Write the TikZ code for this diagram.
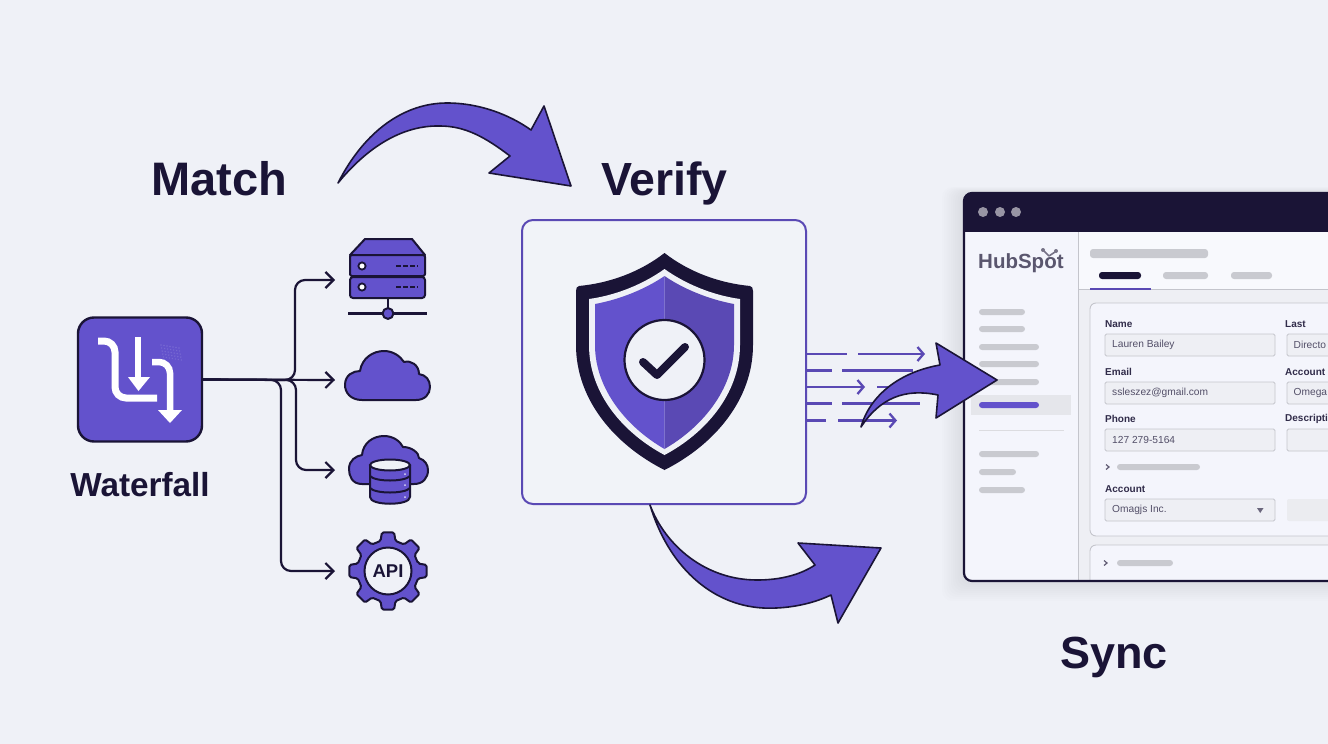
\documentclass[tikz,border=0pt]{standalone}
\usepackage{fontspec}
\setmainfont{Liberation Sans}
\usepackage{xcolor}
\usetikzlibrary{arrows.meta}
\definecolor{pagebg}{HTML}{EFF1F7}
\definecolor{brand}{HTML}{6352CC}
\definecolor{branddk}{HTML}{5A49B4}
\definecolor{ink}{HTML}{1A1436}
\definecolor{barfill}{HTML}{C9CAD0}
\definecolor{fieldbg}{HTML}{EEEFF4}
\definecolor{fieldln}{HTML}{C4C5CC}
\definecolor{panelbg}{HTML}{F4F5FC}
\tikzset{
    heading/.style={font=\bfseries\fontsize{47}{50}\selectfont,text=ink,inner sep=0pt,anchor=base},
    feed/.style={draw=ink,line width=2.2pt,rounded corners=10pt,-{Straight Barb[length=8pt,width=16pt,line width=2.2pt]}},
    icon/.style={fill=brand,draw=ink,line width=2pt,line join=round},
    bigarrow/.style={fill=brand,draw=ink,line width=1.6pt,line join=round},
    dashline/.style={draw=branddk,line width=2.3pt},
    dashtip/.style={dashline,-{Straight Barb[length=6pt,width=14pt]}},
    bar/.style={fill=barfill,rounded corners=3pt},
    flabel/.style={font=\fontsize{10}{12}\selectfont\bfseries,text=ink!90,anchor=west,inner sep=0pt},
    fvalue/.style={font=\fontsize{10.2}{12}\selectfont,text=ink!75,anchor=west,inner sep=0pt},
    fbox/.style={fill=fieldbg,draw=fieldln,line width=.9pt,rounded corners=1.5pt},
    chevron/.style={draw=ink!70,line width=1.2pt},
}
\begin{document}
\begin{tikzpicture}[x=1pt,y=-1pt]
    \useasboundingbox (0,0) rectangle (1328,744);
    \fill[pagebg] (0,0) rectangle (1328,744);

    % headings
    \node[heading] (match) at (219,195) {Match};
    \node[heading,font=\bfseries\fontsize{46.5}{50}\selectfont] (verify) at (664.5,195) {Verify};
    \node[heading,font=\bfseries\fontsize{45}{50}\selectfont] (sync) at (1114,668) {Sync};
    \node[heading,font=\bfseries\fontsize{33.3}{36}\selectfont] (waterfall) at (140,496) {Waterfall};

    % waterfall box
    \node[draw=ink,fill=brand,line width=2.4pt,rounded corners=16pt,minimum size=124pt,inner sep=0pt] (wf) at (140,379.5) {};
    \draw[white,line width=7pt,rounded corners=11pt] (98,341) -- (115,341) -- (115,398) -- (157,398);
    \draw[white,line width=6.5pt] (138,337) -- (138,380);
    \fill[white] (128,377) -- (150,377) -- (138.5,391) -- cycle;
    \draw[white,line width=6.5pt,rounded corners=11pt] (152,362) -- (170,362) -- (170,412);
    \fill[white] (158,410) -- (182,410) -- (170,423) -- cycle;
    \foreach \i in {0,...,6} \foreach \j in {0,...,4}
        \fill[white,opacity=.13] (161+\i*3+\j*.6,345+\j*3+\i*.5) circle (.8pt);

    % feed ends
    \coordinate (serverin) at (335,280);
    \coordinate (cloudin) at (335,380);
    \coordinate (dbin) at (335,470);
    \coordinate (apiin) at (335,571);
    \coordinate (fork) at (295,380);
    \coordinate (forkb) at (296,380);
    \coordinate (forkc) at (281,380);
    \draw[feed] (wf.east) -- (fork) -- (fork|-serverin) -- (serverin);
    \draw[feed,rounded corners=0pt] (wf.east) -- (cloudin);
    \draw[feed] (wf.east) -- (forkb) -- (forkb|-dbin) -- (dbin);
    \draw[feed] (wf.east) -- (forkc) -- (forkc|-apiin) -- (apiin);

    % server
    \draw[icon] (350,255) -- (365,239) -- (412,239) -- (425,255) -- cycle;
    \draw[icon,rounded corners=2pt] (350,255) rectangle (425,276);
    \draw[icon,rounded corners=3pt] (350,277) rectangle (425,298);
    \foreach \y in {266,287}{
        \draw[fill=white,draw=ink,line width=1.8pt] (362,\y) circle (3.6pt);
        \draw[ink,line width=1.3pt,dash pattern=on 5pt off 2pt] (396,\y) -- (418,\y);
    }
    \draw[ink,line width=2pt] (388,298) -- (388,313);
    \draw[ink,line width=2.4pt] (348,313.5) -- (427,313.5);
    \draw[icon] (388,313.5) circle (5.4pt);

    % cloud
    \draw[icon] (362,400) .. controls (350,400) and (345,392) .. (345,385)
        .. controls (345,375) and (353,371) .. (360,371)
        .. controls (362,358) and (373,351) .. (384,351)
        .. controls (393,351) and (400,356) .. (404,362)
        .. controls (411,360) and (419,365) .. (419,374)
        .. controls (426,375) and (430,380) .. (430,387)
        .. controls (430,394) and (425,400) .. (416,400) -- cycle;

    % cloud with store
    \draw[icon] (362,484) .. controls (352,484) and (349,476) .. (349,469)
        .. controls (349,460) and (356,456) .. (362,455)
        .. controls (363,443) and (373,436) .. (384,436)
        .. controls (393,436) and (400,441) .. (403,447)
        .. controls (412,447) and (419,453) .. (419,458)
        .. controls (425,460) and (428,465) .. (428,470)
        .. controls (428,478) and (423,484) .. (414,484) -- cycle;
    \draw[icon] (370,465) -- (370,497) .. controls (370,506) and (410,506) .. (410,497) -- (410,465) -- cycle;
    \draw[fill=pagebg,draw=ink,line width=2pt] (390,465) ellipse (20pt and 5.5pt);
    \foreach \y in {476,488} \draw[ink,line width=2pt] (370,\y) .. controls (375,\y+6) and (405,\y+6) .. (410,\y);
    \foreach \y in {474,485,497} \fill[white!80!brand] (405,\y) circle (1pt);

    % gear
    \begin{scope}[shift={(388,571)}]
        \draw[icon,rounded corners=1.5pt] (-14:31)
            \foreach \a in {0,45,...,315}{ -- (\a-14:31) -- (\a-9:39) -- (\a+9:39) -- (\a+14:31) } -- cycle;
    \end{scope}
    \node[circle,fill=pagebg,draw=ink,line width=2pt,minimum size=47pt,inner sep=0pt,font=\bfseries\fontsize{18.5}{20}\selectfont,text=ink] (api) at (388,571) {API};

    % shield box
    \draw[draw=branddk,line width=2pt,fill=pagebg!85!white,rounded corners=11pt] (522,220) rectangle (806,504);
    \fill[ink] (664.5,253) .. controls (640,272) and (610,283) .. (579,286)
        .. controls (577,286.5) and (576,288) .. (576,291) -- (576,345)
        .. controls (576,400) and (615,445) .. (664.5,470)
        .. controls (714,445) and (753,400) .. (753,345) -- (753,291)
        .. controls (753,288) and (752,286.5) .. (750,286)
        .. controls (719,283) and (689,272) .. (664.5,253) -- cycle;
    \fill[pagebg] (664.5,269) .. controls (645,283) and (618,295) .. (589,299) -- (589,345)
        .. controls (589,395) and (625,434) .. (664.5,455)
        .. controls (704,434) and (740,395) .. (740,345) -- (740,299)
        .. controls (711,295) and (684,283) .. (664.5,269) -- cycle;
    \fill[brand] (664.5,276) .. controls (647,288) and (622,299) .. (595,304) -- (595,345)
        .. controls (595,390) and (628,428) .. (664.5,449) -- cycle;
    \fill[branddk] (664.5,276) .. controls (682,288) and (707,299) .. (734,304) -- (734,345)
        .. controls (734,390) and (701,428) .. (664.5,449) -- cycle;
    \draw[fill=pagebg,draw=ink,line width=2.2pt] (664.5,360) circle (40pt);
    \draw[ink,line width=8pt,line cap=round,line join=round] (643,362) -- (657,375) -- (685,347);

    % speed lines
    \draw[dashline] (807,354) -- (847,354);
    \draw[dashtip] (858,354) -- (925,354);
    \draw[dashline] (807,370.5) -- (832,370.5);
    \draw[dashline] (842,370.5) -- (913,370.5);
    \draw[dashtip] (807,387) -- (865,387);
    \draw[dashline] (877,387) -- (895,387);
    \draw[dashline] (807,403.5) -- (832,403.5);
    \draw[dashline] (842,403.5) -- (920,403.5);
    \draw[dashline] (807,420.5) -- (826,420.5);
    \draw[dashtip] (838,420.5) -- (897,420.5);

    % window shadow
    \foreach \i in {1,...,10}
        \fill[ink,opacity=.007,rounded corners=10pt] (964-\i*2.2,193-\i*.6) rectangle (1340,581+\i*2);

    % window
    \begin{scope}
        \clip[rounded corners=8pt] (964,193) rectangle (1345,581);
        \fill[panelbg] (964,193) rectangle (1345,581);
        \fill[white!40!panelbg] (1078,232) rectangle (1345,289);
        \fill[fieldbg] (1078,289) rectangle (1345,581);
        \fill[ink] (964,193) rectangle (1345,232);
        \foreach \x in {983,1000,1016} \fill[ink!45!white] (\x,212) circle (5pt);
        \draw[fieldln,line width=.9pt] (1078,232) -- (1078,581);
        \draw[fieldln,line width=.9pt] (1078,289) -- (1345,289);

        % logo
        \node[font=\bfseries\fontsize{20.5}{24}\selectfont,text=ink!72,anchor=base west,inner sep=0pt] (logo) at (978,268) {HubSpot};
        \draw[ink!60,line width=1.6pt] (1049,256) -- (1044,251) (1049,256) -- (1055,252);
        \fill[ink!60] (1043,250) circle (2pt) (1056,251) circle (2pt);

        % header bars
        \fill[bar] (1090,249) rectangle (1208,258);
        \fill[ink,rounded corners=3pt] (1099,272) rectangle (1141,279);
        \fill[bar] (1163,272) rectangle (1208,279);
        \fill[bar] (1231,272) rectangle (1272,279);
        \draw[branddk,line width=2pt] (1090,289) -- (1151,289);

        % side bars
        \foreach \y/\w in {312/46,329/46,347/60,364/60,382/60,454/60,472/37,490/46}
            \fill[bar] (979,\y-3) rectangle (979+\w,\y+3);
        \fill[fieldbg!92!gray] (971,395) rectangle (1071,415);
        \fill[brand,rounded corners=3pt] (979,402) rectangle (1039,408);
        \draw[fieldln!60!white,line width=.9pt] (979,430) -- (1064,430);

        % form cards
        \draw[fill=panelbg,draw=fieldln,line width=.9pt,rounded corners=6pt] (1090,303) rectangle (1345,536);
        \draw[fill=panelbg,draw=fieldln,line width=.9pt,rounded corners=6pt] (1090,545) rectangle (1345,600);

        % fields
        \foreach \y/\l/\v in {324/Name/Lauren Bailey,372/Email/ssleszez@gmail.com,419/Phone/127 279-5164}{
            \node[flabel] at (1105,\y) {\l};
            \draw[fbox] (1105,\y+10) rectangle (1275,\y+32);
            \node[fvalue] at (1112,\y+21) {\v};
        }
        \foreach \y/\l/\v in {324/Last/Directo,372/Account/Omega,419/Descripti/}{
            \node[flabel] at (1285,\y) {\l};
            \draw[fbox] (1287,\y+10) rectangle (1345,\y+32);
            \node[fvalue] at (1293.5,\y+21) {\v};
        }
        \draw[chevron] (1106,464.5) -- (1109,467) -- (1106,469.5);
        \fill[bar] (1117,464) rectangle (1200,470);
        \node[flabel] at (1105,489) {Account};
        \draw[fbox] (1105,499) rectangle (1275,521);
        \node[fvalue] at (1112,510) {Omagjs Inc.};
        \fill[ink!65] (1257,508) -- (1263.5,508) -- (1260.2,513) -- cycle;
        \fill[fieldbg!97!gray,rounded corners=2pt] (1287,499) rectangle (1345,521);
        \draw[chevron] (1104,560.5) -- (1107,563) -- (1104,565.5);
        \fill[bar] (1117,560) rectangle (1173,566);
    \end{scope}
    \draw[ink,line width=2.2pt,rounded corners=8pt] (1345,581) -- (964,581) -- (964,193) -- (1345,193);

    % big arrows
    \draw[bigarrow] (338,183) .. controls (365,130) and (405,103) .. (447,103)
        .. controls (480,103) and (510,115) .. (531,130) -- (544,106) -- (571,186) -- (489,173) -- (510,156)
        .. controls (485,137) and (465,126) .. (440,126) .. controls (400,125) and (365,150) .. (338,183) -- cycle;
    \draw[bigarrow] (650,505) .. controls (665,545) and (705,580) .. (757,580)
        .. controls (780,580) and (800,575) .. (815,565) -- (798,543) -- (881,548) -- (838,623) -- (831,595)
        .. controls (810,605) and (785,609) .. (763,608) .. controls (710,605) and (668,565) .. (650,505) -- cycle;
    \draw[bigarrow] (861,427) .. controls (870,395) and (900,372) .. (940,365) -- (936,343) -- (997,380) -- (936,418) -- (938,395)
        .. controls (905,388) and (880,398) .. (861,427) -- cycle;
\end{tikzpicture}
\end{document}
